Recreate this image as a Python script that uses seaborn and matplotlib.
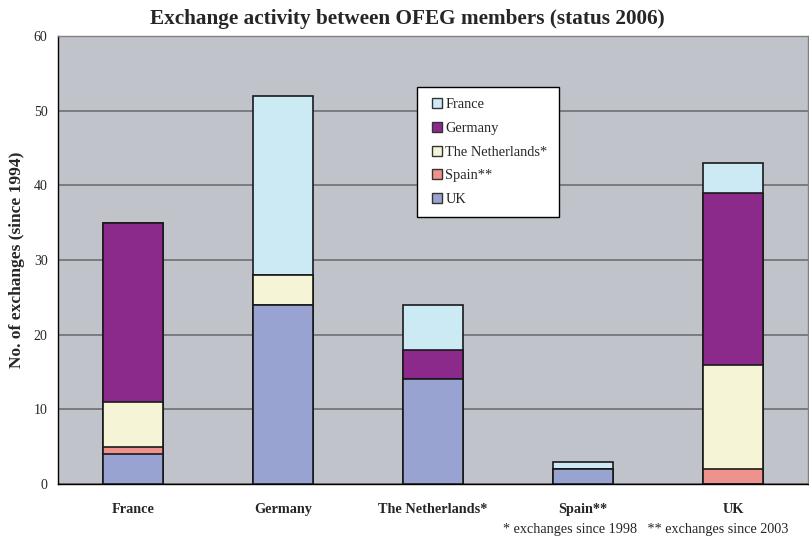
import pandas as pd
import matplotlib.pyplot as plt
from matplotlib.lines import Line2D
import seaborn as sns

# data
countries = ["France", "Germany", "The Netherlands*", "Spain**", "UK"]
uk = [4, 24, 14, 2, 0]
spain = [1, 0, 0, 0, 2]
netherlands = [6, 4, 0, 0, 14]
germany = [24, 0, 4, 0, 23]
france = [0, 24, 6, 1, 4]

series = ["UK", "Spain**", "The Netherlands*", "Germany", "France"]  # bottom -> top
colors = {"France": "#CCEAF3", "Germany": "#8B2A8B", "The Netherlands*": "#F5F4D6",
          "Spain**": "#EF928E", "UK": "#99A3D2"}

df = pd.DataFrame({"country": countries, "UK": uk, "Spain**": spain,
                   "The Netherlands*": netherlands, "Germany": germany, "France": france})
cum = df[series].cumsum(axis=1)
cum["country"] = df["country"]

sns.set_style("white")
plt.rcParams["font.family"] = ["Liberation Serif", "DejaVu Serif"]

fig = plt.figure(figsize=(8.09, 5.4), dpi=100)
ax = fig.add_axes([0.0717, 0.1037, 0.9271, 0.8296])
ax.set_facecolor("#C0C3CA")

# draw cumulative totals from the top layer down so each lower layer covers the one above
for s in reversed(series):
    sns.barplot(data=cum, x="country", y=s, order=countries, color=colors[s],
                width=0.4, edgecolor="#1a1a1a", linewidth=1.2, saturation=1, ax=ax,
                zorder=3)

ax.set_ylim(0, 60)
ax.set_xlim(-0.5, 4.5)
ax.set_yticks(range(0, 61, 10))
ax.yaxis.grid(True, color="#707070", linewidth=1.2, zorder=0)
ax.set_axisbelow(True)

ax.set_xticks(range(len(countries)))
ax.set_xticklabels(countries, fontweight="bold", fontsize=10.3)
ax.tick_params(axis="x", which="major", length=0, pad=14)
ax.set_xticks([i - 0.5 for i in range(len(countries) + 1)], minor=True)
ax.tick_params(axis="x", which="minor", length=5, width=1, direction="out", color="black")
ax.tick_params(axis="y", length=4, width=1, direction="out", color="black", labelsize=10)

for side in ["left", "bottom"]:
    ax.spines[side].set_color("black")
    ax.spines[side].set_linewidth(1)
for side in ["top", "right"]:
    ax.spines[side].set_color("#808080")
    ax.spines[side].set_linewidth(1)

ax.set_xlabel("")
ax.set_ylabel("No. of exchanges (since 1994)", fontweight="bold", fontsize=12.5, labelpad=6)
fig.text(0.503, 1 - 24 / 540, "Exchange activity between OFEG members (status 2006)",
         ha="center", va="baseline", fontweight="bold", fontsize=15.3)

# legend: top layer first, small square keys
handles = [Line2D([], [], linestyle="none", marker="s", markersize=7,
                  markerfacecolor=colors[s], markeredgecolor="#333333", markeredgewidth=1)
           for s in reversed(series)]
leg = ax.legend(handles, list(reversed(series)), loc="upper left",
                bbox_to_anchor=(0.479, 0.886), frameon=True, fancybox=False,
                edgecolor="black", framealpha=1, fontsize=10.4, handlelength=1.3,
                handletextpad=-0.1, labelspacing=0.74, borderpad=0.75, borderaxespad=0)
leg.get_frame().set_linewidth(1)

fig.text(0.974, 1 - 530 / 540, "* exchanges since 1998   ** exchanges since 2003",
         ha="right", va="center", fontsize=10.2)

plt.savefig("out.png", dpi=100)
